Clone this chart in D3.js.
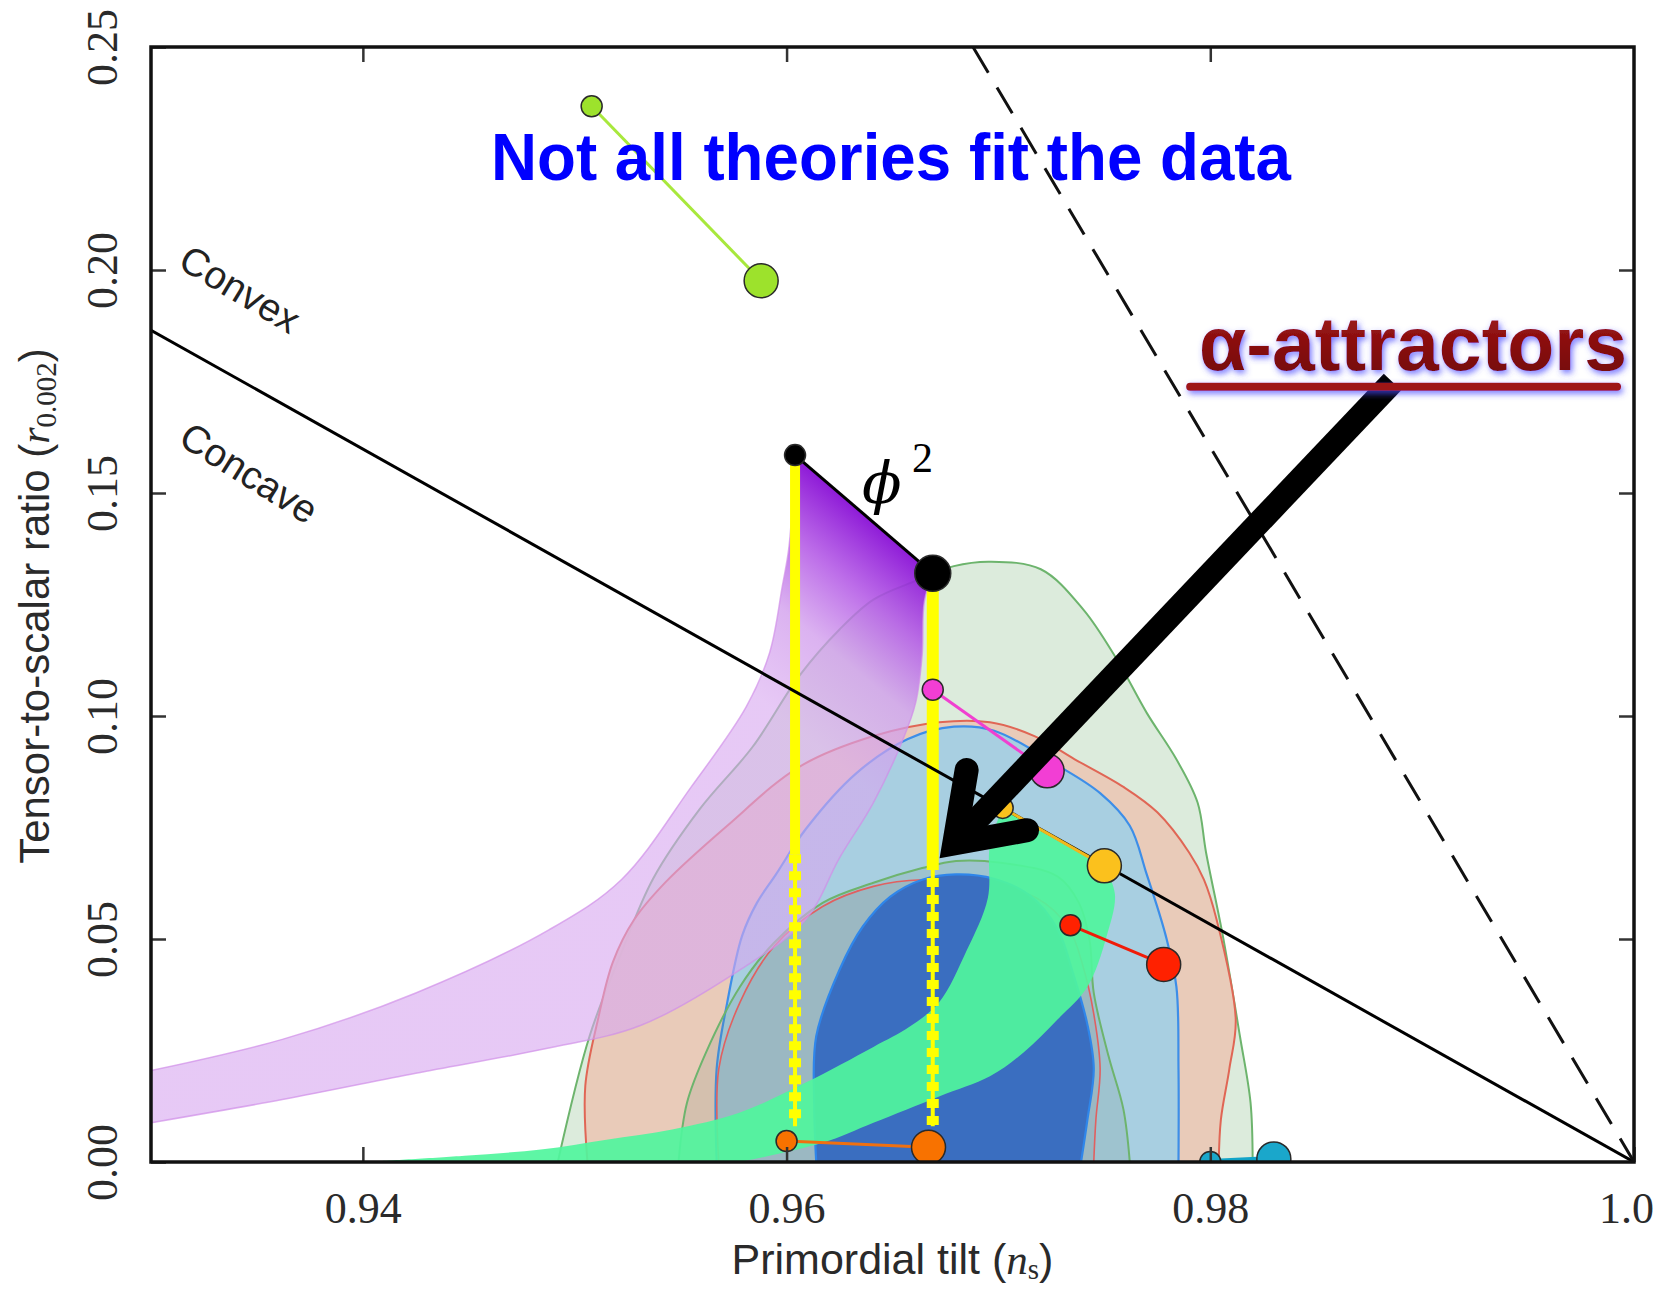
<!DOCTYPE html>
<html>
<head>
<meta charset="utf-8">
<script src="https://cdn.jsdelivr.net/npm/d3@7"></script>
<style>
  body { margin: 0; background: #fff; }
  svg { display: block; }
  .tick text { font-family: "Liberation Serif", serif; font-size: 44px; fill: #2a2a2a; }
  .tick line { stroke: #333; stroke-width: 2.5; }
</style>
</head>
<body>
<div class="chart"></div>
<script>
// r vs n_s plane, Planck contours + model predictions

var svgWidth = 1657;
var svgHeight = 1289;

var margin = { top: 47, right: 23, bottom: 127, left: 151 };
var width = svgWidth - margin.left - margin.right;
var height = svgHeight - margin.top - margin.bottom;

// axis ticks
var xTicks = [0.94, 0.96, 0.98, 1.00];
var yTicks = [0.00, 0.05, 0.10, 0.15, 0.20, 0.25];

// Planck contours [n_s, r]
var greenOuter = [[0.9492,0],[0.9507,0.0282],[0.9522,0.0469],[0.9537,0.0635],[0.9559,0.0791],[0.9584,0.0931],[0.9606,0.1090],[0.9625,0.1194],[0.9641,0.1261],[0.9661,0.1303],[0.9679,0.1336],[0.9696,0.1346],[0.9720,0.1329],[0.9740,0.1239],[0.9756,0.1126],[0.9770,0.1007],[0.9784,0.0903],[0.9794,0.0806],[0.9798,0.0694],[0.9806,0.0505],[0.9814,0.0282],[0.9819,0.0133],[0.9820,0]];
var redOuter = [[0.9506,0],[0.9505,0.0171],[0.9511,0.0320],[0.9518,0.0448],[0.9528,0.0543],[0.9543,0.0628],[0.9572,0.0754],[0.9606,0.0886],[0.9641,0.0955],[0.9672,0.0986],[0.9696,0.0986],[0.9717,0.0955],[0.9736,0.0903],[0.9759,0.0841],[0.9775,0.0784],[0.9790,0.0694],[0.9797,0.0633],[0.9803,0.0543],[0.9812,0.0320],[0.9809,0.0209],[0.9805,0.0095],[0.9804,0]];
var blueOuter = [[0.9567,0],[0.9567,0.0209],[0.9572,0.0358],[0.9579,0.0507],[0.9586,0.0581],[0.9595,0.0645],[0.9609,0.0746],[0.9633,0.0872],[0.9657,0.0948],[0.9679,0.0976],[0.9698,0.0967],[0.9728,0.0889],[0.9748,0.0827],[0.9762,0.0754],[0.9770,0.0645],[0.9779,0.0507],[0.9784,0.0393],[0.9785,0.0209],[0.9785,0]];
var greenInner = [[0.9549,0],[0.9553,0.0133],[0.9562,0.0246],[0.9578,0.0393],[0.9594,0.0491],[0.9617,0.0581],[0.9641,0.0626],[0.9664,0.0659],[0.9680,0.0675],[0.9701,0.0671],[0.9728,0.0640],[0.9738,0.0581],[0.9743,0.0498],[0.9745,0.0379],[0.9752,0.0237],[0.9759,0.0118],[0.9762,0]];
var redInner = [[0.9568,0],[0.9568,0.0209],[0.9578,0.0358],[0.9594,0.0483],[0.9617,0.0573],[0.9641,0.0618],[0.9664,0.0633],[0.9693,0.0623],[0.9718,0.0592],[0.9733,0.0526],[0.9740,0.0438],[0.9745,0.0332],[0.9748,0.0209],[0.9746,0.0095],[0.9745,0]];
var blueInner = [[0.9614,0],[0.9613,0.0133],[0.9614,0.0282],[0.9625,0.0431],[0.9636,0.0528],[0.9649,0.0595],[0.9664,0.0633],[0.9680,0.0645],[0.9698,0.0635],[0.9715,0.0597],[0.9728,0.0521],[0.9735,0.0427],[0.9742,0.0308],[0.9745,0.0209],[0.9742,0.0095],[0.9739,0]];

// purple band (upper edge left->right, lower edge right->left)
var purpleTop = [[0.9290,0.0195],[0.9362,0.0275],[0.9425,0.0379],[0.9488,0.0521],[0.9522,0.0633],[0.9555,0.0841],[0.9581,0.1021],[0.9592,0.1142],[0.9598,0.1291],[0.9601,0.1374],[0.9603,0.1493],[0.9604,0.1585]];
var purpleBottom = [[0.9669,0.1320],[0.9665,0.1256],[0.9664,0.1137],[0.9661,0.1031],[0.9655,0.0948],[0.9641,0.0806],[0.9625,0.0682],[0.9609,0.0543],[0.9578,0.0431],[0.9531,0.0306],[0.9486,0.0254],[0.9425,0.0199],[0.9362,0.0140],[0.9300,0.0088],[0.9290,0.0080]];

// green alpha-attractor band
var mintLeft = [[0.9702,0.0794],[0.9696,0.0711],[0.9695,0.0592],[0.9685,0.0474],[0.9672,0.0358],[0.9658,0.0303],[0.9641,0.0258],[0.9609,0.0178],[0.9578,0.0111],[0.9546,0.0073],[0.9515,0.0050],[0.9484,0.0028],[0.9448,0.0014],[0.9408,0.0002]];
var mintRight = [[0.9578,0],[0.9617,0.0043],[0.9641,0.0088],[0.9672,0.0147],[0.9696,0.0192],[0.9712,0.0246],[0.9728,0.0320],[0.9742,0.0393],[0.9751,0.0505],[0.9755,0.0600],[0.9750,0.0664]];

// yellow phi^2 tracks
var phi2Ns = [0.9604, 0.9669];
var phi2Top = [0.1585, 0.1320];
var phi2Solid = [0.069, 0.0675];
var phi2End = [0.008, 0.008];

// model points: small = N 50, large = N 60
var modelColors = ["#9de22c", "#000000", "#f23ed4", "#fbc11d", "#ff2100", "#f87200", "#1aa7cb"];
var lineColors = ["#a8e83c", "#000000", "#f040d0", "#f2b71c", "#f01c08", "#f07010", "#12a4c8"];
var smallNs = [0.9508, 0.9604, 0.9669, 0.9702, 0.9734, 0.9600, 0.9800];
var smallR = [0.2367, 0.1585, 0.1059, 0.0794, 0.0531, 0.0047, 0.0000];
var largeNs = [0.9588, 0.9669, 0.9723, 0.9750, 0.9778, 0.9667, 0.9830];
var largeR = [0.1976, 0.1320, 0.0877, 0.0664, 0.0443, 0.0033, 0.0007];

// reference lines
var concaveLine = [[0.93, 0.1865], [1.00, 0.0]];
var dashedLine = [[0.9688, 0.25], [1.00, 0.0]];

// annotation arrow
var arrowShaft = [[0.9886, 0.1749], [0.9670, 0.0670]];
var arrowBarbs = [[0.9685, 0.0879], [0.9670, 0.0670], [0.97135, 0.0744]];

var svg = d3.select(".chart")
  .append("svg")
  .attr("width", svgWidth)
  .attr("height", svgHeight);

var defs = svg.append("defs");

var chartGroup = svg.append("g")
  .attr("transform", `translate(${margin.left}, ${margin.top})`);

var x = d3.scaleLinear().domain([0.93, 1.0]).range([0, width]);
var y = d3.scaleLinear().domain([0, 0.25]).range([height, 0]);

defs.append("clipPath").attr("id", "plotClip")
  .append("rect").attr("width", width).attr("height", height);

// purple gradient
var pg = defs.append("linearGradient")
  .attr("id", "purpleGrad")
  .attr("gradientUnits", "userSpaceOnUse")
  .attr("x1", x(0.9651)).attr("y1", y(0.1395))
  .attr("x2", x(0.9588)).attr("y2", y(0.1036));
[[0, "#8a12d6", 0.96], [0.3, "#b45ae6", 0.88], [0.6, "#d09aec", 0.76], [1, "#d8a8f0", 0.62]]
  .forEach(s => pg.append("stop").attr("offset", s[0]).attr("stop-color", s[1]).attr("stop-opacity", s[2]));

// glow for the alpha-attractors label
var glow = defs.append("filter").attr("id", "glow")
  .attr("x", "-10%").attr("y", "-40%").attr("width", "125%").attr("height", "190%");
glow.append("feGaussianBlur").attr("in", "SourceAlpha").attr("stdDeviation", 3).attr("result", "b");
glow.append("feOffset").attr("in", "b").attr("dx", 2).attr("dy", 3).attr("result", "o");
glow.append("feFlood").attr("flood-color", "#4848ff").attr("flood-opacity", 0.75);
glow.append("feComposite").attr("in2", "o").attr("operator", "in").attr("result", "s");
var gm = glow.append("feMerge");
gm.append("feMergeNode").attr("in", "s");
gm.append("feMergeNode").attr("in", "SourceGraphic");

var redGrad = defs.append("linearGradient").attr("id", "redGrad")
  .attr("x1", 0).attr("y1", 0).attr("x2", 0).attr("y2", 1);
redGrad.append("stop").attr("offset", 0).attr("stop-color", "#a51a1a");
redGrad.append("stop").attr("offset", 1).attr("stop-color", "#6e0404");

var smooth = d3.line()
  .x(d => x(d[0]))
  .y(d => y(d[1]))
  .curve(d3.curveCatmullRom.alpha(0.5));

var straight = d3.line()
  .x(d => x(d[0]))
  .y(d => y(d[1]));

var plot = chartGroup.append("g").attr("clip-path", "url(#plotClip)");

// contours
var contours = [
  [greenOuter, "#dcebdc", 1, "#6db46d", 2],
  [redOuter, "#e9c9b6", 0.95, "#e06655", 2],
  [blueOuter, "#a8cfe1", 1, "#3d8ee8", 2.2],
  [greenInner, "#6a8a78", 0.16, "#6db46d", 2],
  [redInner, "#8a6a6a", 0.12, "#e06060", 1.6],
  [blueInner, "#3a6ec0", 1, "#2f86ea", 2.2]
];
contours.forEach(function (c) {
  plot.append("path")
    .attr("d", smooth(c[0]) + "Z")
    .attr("fill", c[1])
    .attr("fill-opacity", c[2])
    .attr("stroke", c[3])
    .attr("stroke-width", c[4]);
});

// purple band
plot.append("path")
  .attr("d", smooth(purpleTop) + smooth(purpleBottom).replace(/^M/, "L") + "Z")
  .attr("fill", "url(#purpleGrad)")
  .attr("stroke", "#d08ee8")
  .attr("stroke-opacity", 0.7)
  .attr("stroke-width", 1.5);

// alpha-attractor band
plot.append("path")
  .attr("d", smooth(mintLeft) + smooth(mintRight).replace(/^M/, "L") + "Z")
  .attr("fill", "#50f59d")
  .attr("fill-opacity", 0.92);

// yellow phi^2 tracks
phi2Ns.forEach(function (ns, i) {
  plot.append("line")
    .attr("x1", x(ns)).attr("x2", x(ns))
    .attr("y1", y(phi2Top[i])).attr("y2", y(phi2Solid[i]))
    .attr("stroke", "#ffff00")
    .attr("stroke-width", i == 0 ? 10 : 12);
  plot.append("line")
    .attr("x1", x(ns)).attr("x2", x(ns))
    .attr("y1", y(phi2Solid[i])).attr("y2", y(phi2End[i]))
    .attr("stroke", "#ffff00")
    .attr("stroke-width", 4);
  plot.append("line")
    .attr("x1", x(ns)).attr("x2", x(ns))
    .attr("y1", y(phi2Solid[i])).attr("y2", y(phi2End[i]))
    .attr("stroke", "#ffff00")
    .attr("stroke-width", 12)
    .attr("stroke-dasharray", "9 8");
});

// reference lines
plot.append("path")
  .attr("d", straight(concaveLine))
  .attr("fill", "none")
  .attr("stroke", "#000")
  .attr("stroke-width", 3);

plot.append("path")
  .attr("d", straight(dashedLine))
  .attr("fill", "none")
  .attr("stroke", "#111")
  .attr("stroke-width", 3)
  .attr("stroke-dasharray", "30 17");

// model pairs
smallNs.forEach(function (ns, i) {
  plot.append("line")
    .attr("x1", x(ns)).attr("y1", y(smallR[i]))
    .attr("x2", x(largeNs[i])).attr("y2", y(largeR[i]))
    .attr("stroke", lineColors[i])
    .attr("stroke-width", i == 6 ? 6 : 3);
});
smallNs.forEach(function (ns, i) {
  plot.append("circle")
    .attr("cx", x(ns)).attr("cy", y(smallR[i]))
    .attr("r", 10.5)
    .attr("fill", modelColors[i])
    .attr("stroke", "#2a2a2a")
    .attr("stroke-width", 1.5);
  plot.append("circle")
    .attr("cx", x(largeNs[i])).attr("cy", y(largeR[i]))
    .attr("r", i == 1 ? 18 : 17)
    .attr("fill", modelColors[i])
    .attr("stroke", "#2a2a2a")
    .attr("stroke-width", 1.5);
});

// axes
var xFormat = d => d === 1 ? "1.0" : d3.format(".2f")(d);
var bottomAxis = d3.axisBottom(x).tickValues(xTicks).tickFormat(xFormat)
  .tickSizeInner(-15).tickSizeOuter(0).tickPadding(30);
var leftAxis = d3.axisLeft(y).tickValues(yTicks).tickFormat(d3.format(".2f"))
  .tickSizeInner(-15).tickSizeOuter(0);
var topAxis = d3.axisTop(x).tickValues(xTicks.slice(0, 3)).tickFormat("")
  .tickSizeInner(-15).tickSizeOuter(0);
var rightAxis = d3.axisRight(y).tickValues(yTicks.slice(1, 5)).tickFormat("")
  .tickSizeInner(-15).tickSizeOuter(0);

var xAxis = chartGroup.append("g")
  .attr("transform", `translate(0, ${height})`)
  .call(bottomAxis);
var yAxis = chartGroup.append("g").call(leftAxis);
chartGroup.append("g").call(topAxis);
chartGroup.append("g").attr("transform", `translate(${width}, 0)`).call(rightAxis);

chartGroup.selectAll(".domain").remove();
xAxis.selectAll("text")
  .attr("fill", "#2a2a2a")
  .attr("dx", d => d === 1 ? -8 : 0);
yAxis.selectAll("text")
  .attr("x", 0)
  .attr("dy", null)
  .attr("text-anchor", "middle")
  .attr("fill", "#2a2a2a")
  .attr("transform", "translate(-34, 0) rotate(-90)");

// frame
chartGroup.append("rect")
  .attr("width", width)
  .attr("height", height)
  .attr("fill", "none")
  .attr("stroke", "#111")
  .attr("stroke-width", 3.5);

// axis titles
var xTitle = svg.append("text")
  .attr("x", margin.left + width / 2)
  .attr("y", 1274)
  .attr("text-anchor", "middle")
  .attr("font-family", "Liberation Sans, sans-serif")
  .attr("font-size", 43)
  .attr("fill", "#2a2a2a");
xTitle.append("tspan").text("Primordial tilt (");
xTitle.append("tspan").attr("font-family", "Liberation Serif, serif").attr("font-style", "italic").text("n");
xTitle.append("tspan").attr("font-family", "Liberation Serif, serif").attr("font-size", 29).attr("dy", 5).text("s");
xTitle.append("tspan").attr("dy", -5).text(")");

var yTitle = svg.append("text")
  .attr("transform", "translate(49, 606) rotate(-90)")
  .attr("text-anchor", "middle")
  .attr("font-family", "Liberation Sans, sans-serif")
  .attr("font-size", 42)
  .attr("fill", "#2a2a2a");
yTitle.append("tspan").text("Tensor-to-scalar ratio (");
yTitle.append("tspan").attr("font-family", "Liberation Serif, serif").attr("font-style", "italic").text("r");
yTitle.append("tspan").attr("font-family", "Liberation Serif, serif").attr("font-size", 29).attr("dy", 7).text("0.002");
yTitle.append("tspan").attr("dy", -7).text(")");

// convex / concave labels
[["Convex", 0.9342, 0.1957, 31], ["Concave", 0.93463, 0.1545, 32]].forEach(function (l) {
  chartGroup.append("text")
    .attr("transform", `translate(${x(l[1])}, ${y(l[2])}) rotate(${l[3]})`)
    .attr("text-anchor", "middle")
    .attr("dominant-baseline", "central")
    .attr("font-family", "Liberation Sans, sans-serif")
    .attr("font-size", 39)
    .attr("fill", "#222")
    .text(l[0]);
});

// phi^2 label
chartGroup.append("text")
  .attr("x", x(0.96356)).attr("y", y(0.1478))
  .attr("font-family", "DejaVu Serif, serif")
  .attr("font-style", "italic")
  .attr("font-size", 58)
  .attr("fill", "#000")
  .text("ϕ");
chartGroup.append("text")
  .attr("x", x(0.96592)).attr("y", y(0.1547))
  .attr("font-family", "Liberation Serif, serif")
  .attr("font-size", 42)
  .attr("fill", "#000")
  .text("2");

// headline
chartGroup.append("text")
  .attr("x", x(0.94605)).attr("y", y(0.2202))
  .attr("font-family", "Liberation Sans, Arial, sans-serif")
  .attr("font-weight", "bold")
  .attr("font-size", 66)
  .attr("textLength", 800)
  .attr("lengthAdjust", "spacingAndGlyphs")
  .attr("fill", "#0000ff")
  .text("Not all theories fit the data");

// arrow
var shaftPx = arrowShaft.map(d => [x(d[0]), y(d[1])]);
var barbPx = arrowBarbs.map(d => [x(d[0]), y(d[1])]);
var arrowW = 24;
var tip = barbPx[1];
var v1 = [barbPx[0][0] - tip[0], barbPx[0][1] - tip[1]];
var v2 = [barbPx[2][0] - tip[0], barbPx[2][1] - tip[1]];
var n1 = Math.hypot(v1[0], v1[1]), n2 = Math.hypot(v2[0], v2[1]);
var bis = [v1[0] / n1 + v2[0] / n2, v1[1] / n1 + v2[1] / n2];
var nb = Math.hypot(bis[0], bis[1]);
var half = Math.acos((v1[0] * v2[0] + v1[1] * v2[1]) / (n1 * n2)) / 2;
var back = (arrowW / 2) / Math.sin(half);
var inner = [tip[0] + bis[0] / nb * back, tip[1] + bis[1] / nb * back];

chartGroup.append("line")
  .attr("x1", shaftPx[0][0]).attr("y1", shaftPx[0][1])
  .attr("x2", inner[0]).attr("y2", inner[1])
  .attr("stroke", "#000")
  .attr("stroke-width", arrowW);
chartGroup.append("path")
  .attr("d", `M${barbPx[0][0]},${barbPx[0][1]}L${inner[0]},${inner[1]}L${barbPx[2][0]},${barbPx[2][1]}`)
  .attr("fill", "none")
  .attr("stroke", "#000")
  .attr("stroke-width", arrowW)
  .attr("stroke-linejoin", "miter")
  .attr("stroke-miterlimit", 10)
  .attr("stroke-linecap", "round");

// alpha-attractors label
var attr = chartGroup.append("g").attr("filter", "url(#glow)");
attr.append("line")
  .attr("x1", x(0.97905)).attr("x2", x(0.99920))
  .attr("y1", y(0.1738)).attr("y2", y(0.1738))
  .attr("stroke", "#9e1212")
  .attr("stroke-width", 8)
  .attr("stroke-linecap", "round");
attr.append("text")
  .attr("x", x(0.97947)).attr("y", y(0.1776))
  .attr("font-family", "Liberation Sans, Arial, sans-serif")
  .attr("font-weight", "bold")
  .attr("font-size", 76)
  .attr("textLength", 428)
  .attr("lengthAdjust", "spacingAndGlyphs")
  .attr("fill", "url(#redGrad)")
  .text("α-attractors");
</script>
</body>
</html>
